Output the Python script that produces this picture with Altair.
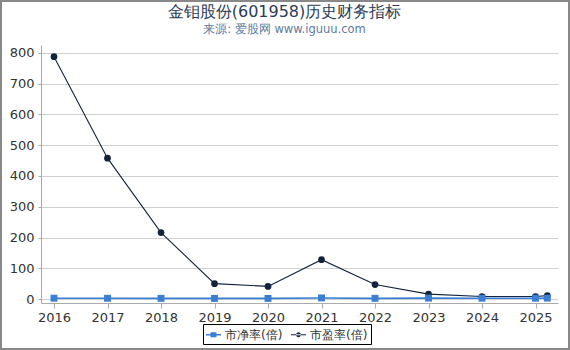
import altair as alt
import pandas as pd

# ---- data ----
years = [2016, 2017, 2018, 2019, 2020, 2021, 2022, 2023, 2024, 2025, 2025.22]
pb_values = [2.6, 2.4, 2.1, 1.9, 1.9, 3.5, 2.2, 2.9, 2.5, 2.6, 2.8]
pe_values = [788, 458, 216, 50, 41, 128, 47, 16, 8, 8, 11]
series_names = ["市净率(倍)", "市盈率(倍)"]
colors = ["#3a7fd4", "#13223d"]
x_ticks = [2016, 2017, 2018, 2019, 2020, 2021, 2022, 2023, 2024, 2025]

rows = []
for yr, v in zip(years, pb_values):
    rows.append({"year": yr, "value": v, "series": series_names[0]})
for yr, v in zip(years, pe_values):
    rows.append({"year": yr, "value": v, "series": series_names[1]})
df = pd.DataFrame(rows)

FONT = "DejaVu Sans"
W, H = 517, 258

x_enc = alt.X("year:Q",
              scale=alt.Scale(domain=[2015.757, 2025.42], nice=False, zero=False),
              axis=alt.Axis(values=x_ticks, format="d", title=None, grid=False,
                            labelFontSize=13, labelColor="#333", tickSize=5,
                            domainColor="#aaa", tickColor="#aaa", labelPadding=3))
y_enc = alt.Y("value:Q",
              scale=alt.Scale(domain=[-13, 826], nice=False, zero=False),
              axis=alt.Axis(values=[0, 100, 200, 300, 400, 500, 600, 700, 800],
                            title=None, grid=True, gridColor="#d0d0d0",
                            labelFontSize=13, labelColor="#333", tickSize=3,
                            domainColor="#aaa", tickColor="#aaa", labelPadding=4))


def series_layers(name, color, shape, size, width):
    base = alt.Chart(df).transform_filter(alt.datum.series == name)
    line = base.mark_line(strokeWidth=width, color=color).encode(x=x_enc, y=y_enc)
    pts = base.mark_point(filled=True, opacity=1, shape=shape, size=size,
                          color=color).encode(x=x_enc, y=y_enc)
    return [line, pts]


pb_line, pb_pts = series_layers(series_names[0], colors[0], "square", 48, 1.6)
pe_line, pe_pts = series_layers(series_names[1], colors[1], "circle", 45, 1.1)

sq_path = "M-1,-0.09H1V0.09H-1Z M-0.4,-0.34H0.4V0.34H-0.4Z"
ci_path = "M-1,-0.06H1V0.06H-1Z M-0.32,0A0.32,0.32 0 1,0 0.32,0A0.32,0.32 0 1,0 -0.32,0Z"

legend_layer = alt.Chart(df).mark_point(filled=True, clip=True, opacity=1).encode(
    x=alt.value(0), y=alt.value(-2000),
    color=alt.Color("series:N", scale=alt.Scale(domain=series_names, range=colors),
                    legend=alt.Legend(title=None)),
    shape=alt.Shape("series:N", scale=alt.Scale(domain=series_names, range=[sq_path, ci_path]),
                    legend=alt.Legend(title=None)),
)

border = alt.Chart(alt.Data(values=[{}])).mark_rect(
    fill=None, stroke="#888", strokeWidth=2, clip=False
).encode(x=alt.value(-40), x2=alt.value(528), y=alt.value(-44), y2=alt.value(304))

chart = alt.layer(border, pe_line, pb_line, pe_pts, pb_pts, legend_layer).properties(
    width=W, height=H,
    autosize=alt.AutoSizeParams(type="none"),
    padding={"left": 41, "top": 45, "right": 12, "bottom": 47},
    title=alt.TitleParams(
        text="金钼股份(601958)历史财务指标",
        subtitle="来源: 爱股网 www.iguuu.com",
        anchor="middle", dx=-15, offset=-35,
        fontSize=16, fontWeight="normal", color="#2b3d57",
        subtitleFontSize=11.5, subtitleColor="#5d7ba0", subtitlePadding=4,
        font=FONT, subtitleFont=FONT,
    ),
).configure(
    font=FONT,
).configure_view(
    stroke=None,
).configure_legend(
    orient="none", legendX=162, legendY=279, direction="horizontal",
    strokeColor="#000", padding=3, symbolSize=225, labelFontSize=12,
    labelColor="#333", labelFont=FONT, columnPadding=8, labelOffset=4,
    symbolStrokeWidth=0,
)

chart.save("out.html", embed_options={"renderer": "svg", "actions": False})
